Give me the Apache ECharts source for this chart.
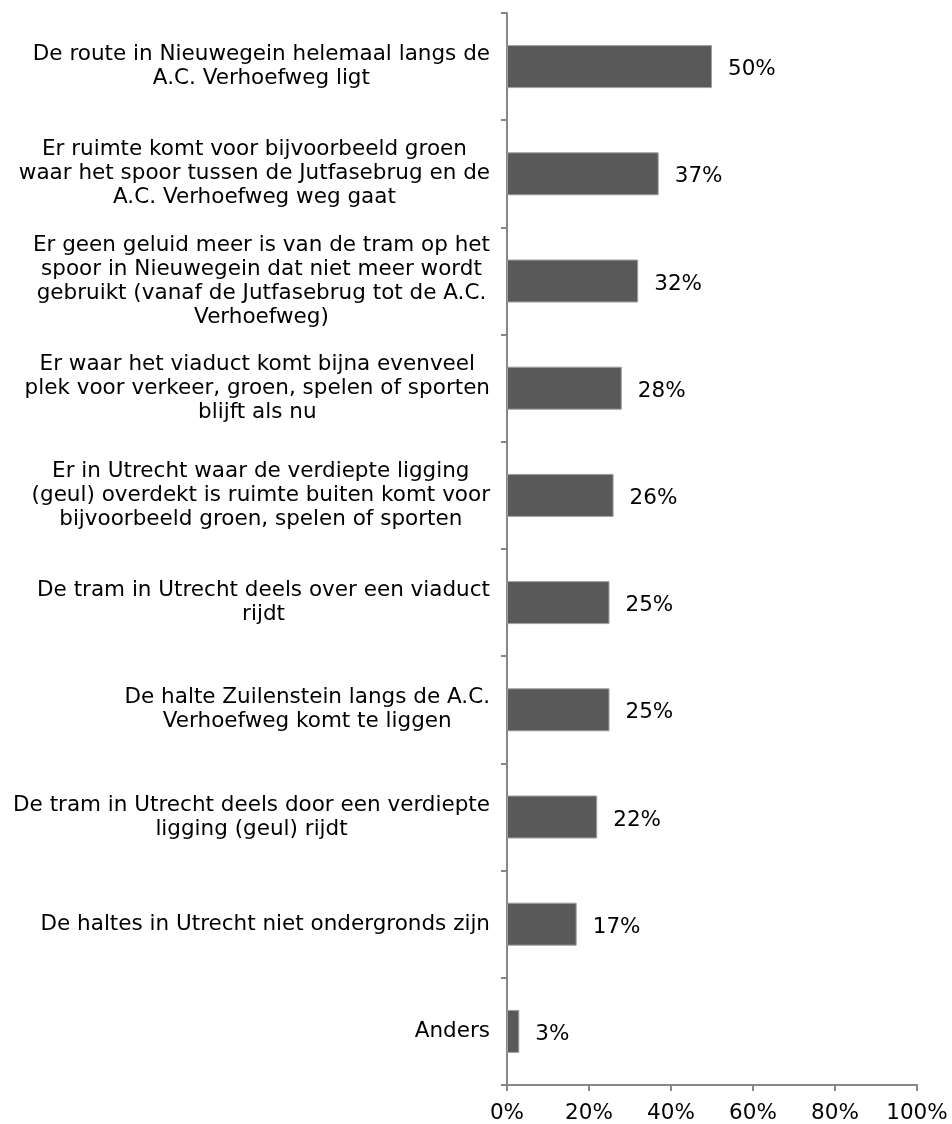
<!DOCTYPE html>
<html>
<head>
<meta charset="utf-8">
<script src="https://cdn.jsdelivr.net/npm/echarts@6/dist/echarts.min.js"></script>
<style>
  html, body { margin: 0; padding: 0; background: #fff; }
  #chart { width: 952px; height: 1124px; }
</style>
</head>
<body>
<div id="chart"></div>
<script>
// antwoorden, van boven naar beneden
const categories = [
  'De route in Nieuwegein helemaal langs de\nA.C. Verhoefweg ligt',
  'Er ruimte komt voor bijvoorbeeld groen\nwaar het spoor tussen de Jutfasebrug en de\nA.C. Verhoefweg weg gaat',
  'Er geen geluid meer is van de tram op het\nspoor in Nieuwegein dat niet meer wordt\ngebruikt (vanaf de Jutfasebrug tot de A.C.\nVerhoefweg)',
  'Er waar het viaduct komt bijna evenveel\nplek voor verkeer, groen, spelen of sporten\nblijft als nu',
  'Er in Utrecht waar de verdiepte ligging\n(geul) overdekt is ruimte buiten komt voor\nbijvoorbeeld groen, spelen of sporten',
  'De tram in Utrecht deels over een viaduct\nrijdt',
  'De halte Zuilenstein langs de A.C.\nVerhoefweg komt te liggen',
  'De tram in Utrecht deels door een verdiepte\nligging (geul) rijdt',
  'De haltes in Utrecht niet ondergronds zijn',
  'Anders'
]
const values = [50, 37, 32, 28, 26, 25, 25, 22, 17, 3]
const xTicks = [0, 20, 40, 60, 80, 100]

const FONT = 'DejaVu Sans, Verdana, sans-serif'
const FONT_SIZE = 21.5
const AXIS_GREY = '#878787'

const chart = echarts.init(document.getElementById('chart'))

chart.setOption({
  animation: false,
  grid: { left: 507, right: 35, top: 13, bottom: 39, containLabel: false, outerBoundsMode: 'none' },
  xAxis: {
    type: 'value',
    min: xTicks[0],
    max: xTicks[xTicks.length - 1],
    interval: 20,
    splitLine: { show: false },
    axisLine: { show: true, lineStyle: { color: AXIS_GREY, width: 2 } },
    axisTick: { show: true, length: 6, lineStyle: { color: AXIS_GREY, width: 2 } },
    axisLabel: {
      formatter: v => v + '%',
      color: '#000',
      fontFamily: FONT,
      fontSize: FONT_SIZE,
      margin: 17
    }
  },
  yAxis: {
    type: 'category',
    inverse: true,
    data: categories,
    axisLine: { show: true, lineStyle: { color: AXIS_GREY, width: 2 } },
    axisTick: { show: true, length: 6, lineStyle: { color: AXIS_GREY, width: 2 } },
    axisLabel: {
      margin: 17,
      interval: 0,
      // regels gecentreerd binnen het blok, blok zelf rechts tegen de as
      formatter: v => v.split('\n').map(l => '{c|' + l + '}').join('\n'),
      rich: {
        c: { align: 'center', color: '#000', fontFamily: FONT, fontSize: FONT_SIZE, lineHeight: 24 }
      }
    }
  },
  series: [{
    type: 'bar',
    data: values,
    barWidth: 43,
    itemStyle: { color: '#595959', borderColor: '#a0a0a0', borderWidth: 1 },
    label: {
      show: true,
      position: 'right',
      distance: 16,
      offset: [0, 3],
      formatter: p => p.value + '%',
      color: '#000',
      fontFamily: FONT,
      fontSize: FONT_SIZE
    }
  }]
})
</script>
</body>
</html>
